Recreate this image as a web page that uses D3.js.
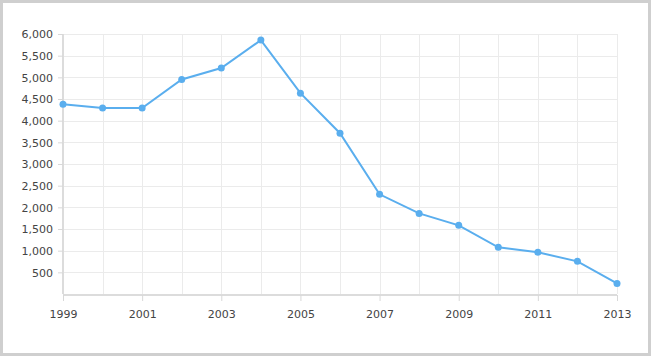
<!DOCTYPE html>
<html>
<head>
<meta charset="utf-8">
<script src="https://cdn.jsdelivr.net/npm/d3@7"></script>
<style>
  body { margin: 0; background: #fff; }
  text { font-family: "DejaVu Sans", Verdana, sans-serif; font-size: 11px; fill: #444; }
</style>
</head>
<body>
<svg id="chart"></svg>
<script>
const years = [1999, 2000, 2001, 2002, 2003, 2004, 2005, 2006, 2007, 2008, 2009, 2010, 2011, 2012, 2013];
const values = [4380, 4290, 4290, 4950, 5215, 5860, 4635, 3710, 2300, 1860, 1585, 1077, 962, 753, 245];
const yTicks = [500, 1000, 1500, 2000, 2500, 3000, 3500, 4000, 4500, 5000, 5500, 6000];
const xTicks = [1999, 2001, 2003, 2005, 2007, 2009, 2011, 2013];

const width = 651,
  height = 357;
const margin = { top: 34, right: 34, bottom: 63, left: 63 };

const svg = d3.select("#chart").attr("width", width).attr("height", height);

// frame
svg
  .append("rect")
  .attr("x", 1.5)
  .attr("y", 1.5)
  .attr("width", width - 3)
  .attr("height", height - 4)
  .attr("fill", "#fff")
  .attr("stroke", "#cfcfcf")
  .attr("stroke-width", 3);

const x = d3
  .scaleLinear()
  .domain([1999, 2013])
  .range([margin.left, width - margin.right]);

const y = d3
  .scaleLinear()
  .domain([0, 6000])
  .range([height - margin.bottom, margin.top]);

// grid
svg
  .append("g")
  .selectAll("line")
  .data(yTicks)
  .enter()
  .append("line")
  .attr("x1", margin.left)
  .attr("x2", width - margin.right)
  .attr("y1", (d) => Math.round(y(d)) + 0.5)
  .attr("y2", (d) => Math.round(y(d)) + 0.5)
  .attr("stroke", "#ebebeb");

svg
  .append("g")
  .selectAll("line")
  .data(years)
  .enter()
  .append("line")
  .attr("x1", (d) => Math.round(x(d)) + 0.5)
  .attr("x2", (d) => Math.round(x(d)) + 0.5)
  .attr("y1", margin.top)
  .attr("y2", y(0))
  .attr("stroke", "#ebebeb");

// Y Axis
const yAxis = svg
  .append("g")
  .attr("transform", `translate(${margin.left},0)`)
  .call(
    d3
      .axisLeft(y)
      .tickValues(yTicks)
      .tickFormat(d3.format(","))
      .tickSize(5)
      .tickPadding(5)
  );
yAxis.select(".domain").attr("stroke", "#dcdcdc").attr("stroke-width", 2).attr("d", `M0,${margin.top}V${y(0)}`);
yAxis.selectAll(".tick line").attr("stroke", "#d8d8d8");
yAxis.selectAll("text").attr("dy", "0.35em");

// X Axis
const xAxis = svg
  .append("g")
  .attr("transform", `translate(0,${y(0) + 1})`)
  .call(
    d3
      .axisBottom(x)
      .tickValues(xTicks)
      .tickFormat(d3.format("d"))
      .tickSize(6)
      .tickPadding(9)
  );
xAxis.select(".domain").attr("stroke", "#dcdcdc").attr("stroke-width", 2).attr("d", `M${margin.left},0H${width - margin.right}`);
xAxis.selectAll(".tick line").attr("stroke", "#d8d8d8");

// line
const line = d3
  .line()
  .x((d, i) => x(years[i]))
  .y((d) => y(d));

svg
  .append("path")
  .datum(values)
  .attr("fill", "none")
  .attr("stroke", "#5aaeee")
  .attr("stroke-width", 2)
  .attr("d", line);

svg
  .append("g")
  .selectAll("circle")
  .data(values)
  .enter()
  .append("circle")
  .attr("cx", (d, i) => x(years[i]))
  .attr("cy", (d) => y(d))
  .attr("r", 3.5)
  .attr("fill", "#5aaeee");
</script>
</body>
</html>
